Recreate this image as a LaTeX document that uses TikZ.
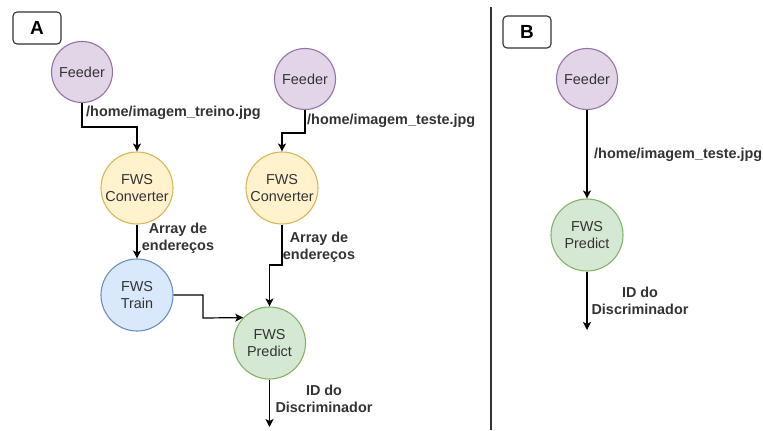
\documentclass[tikz,border=0pt]{standalone}
\usepackage{fontspec}
\setmainfont{Liberation Sans}
\usetikzlibrary{arrows.meta}
\definecolor{txt}{HTML}{333333}
\definecolor{pfill}{HTML}{E1D5E7}\definecolor{pline}{HTML}{9673A6}
\definecolor{yfill}{HTML}{FFF2CC}\definecolor{yline}{HTML}{D6B656}
\definecolor{bfill}{HTML}{DAE8FC}\definecolor{bline}{HTML}{6C8EBF}
\definecolor{gfill}{HTML}{D5E8D4}\definecolor{gline}{HTML}{82B366}
\tikzset{
  circ/.style={circle,inner sep=0pt,minimum size=72pt,line width=1.1pt,text=txt,align=center,
    font=\fontsize{14.4}{17}\selectfont},
  feeder/.style={circ,minimum size=61pt,fill=pfill,draw=pline},
  conv/.style={circ,fill=yfill,draw=yline},
  train/.style={circ,fill=bfill,draw=bline},
  pred/.style={circ,fill=gfill,draw=gline},
  lbl/.style={inner sep=0pt,text=txt,align=center,font=\fontsize{14.4}{17}\selectfont\bfseries},
  tag/.style={draw=txt,line width=1.1pt,rounded corners=4pt,fill=white,minimum width=48pt,minimum height=32pt,
    inner sep=0pt,font=\fontsize{19}{20}\selectfont\bfseries},
  arr/.style={line width=1.2pt,-{Stealth[length=8pt,width=8pt,inset=2pt]}}
}
\begin{document}
\begin{tikzpicture}[x=1pt,y=-1pt]
\useasboundingbox (0,0) rectangle (763,431);
% panel A
\node[tag] (tA) at (37,28) {A};
\node[feeder] (f1) at (82,72) {Feeder};
\node[feeder] (f2) at (305,79) {Feeder};
\node[conv] (c1) at (137,188) {FWS\\Converter};
\node[conv] (c2) at (282,188) {FWS\\Converter};
\node[train] (t) at (137,295) {FWS\\Train};
\node[pred] (p) at (269.5,343) {FWS\\Predict};
\coordinate (b1) at (82,127);
\coordinate (b2) at (305,133);
\coordinate (b4) at (203,318);
\coordinate (b5) at (269.5,265);
\coordinate (oA) at (269.5,427);
\draw[arr] (f1.south) -- (b1) -| (c1.north);
\draw[arr] (f2.south) -- (b2) -| (c2.north);
\draw[arr] (c1.south) -- (t.north);
\draw[arr] (c2.south) |- (b5) -- (p.north);
\draw[arr] (t.east) -| (b4) -- (p.136);
\draw[arr] (p.south) -- (oA);
\node[lbl,anchor=west] (l1) at (86,113) {/home/imagem\_treino.jpg};
\node[lbl,anchor=west] (l2) at (307,121) {/home/imagem\_teste.jpg};
\node[lbl] (l3) at (178,238) {Array de\\endereços};
\node[lbl] (l4) at (319,247) {Array de\\endereços};
\node[lbl] (l5) at (324,399) {ID do\\Discriminador};
% divider
\draw[line width=1.2pt,draw=txt] (491,7) -- (491,430);
% panel B
\node[tag] (tB) at (527,32) {B};
\node[feeder] (fB) at (587,79) {Feeder};
\node[pred] (pB) at (587,235) {FWS\\Predict};
\coordinate (oB) at (587,330);
\draw[arr] (fB.south) -- (pB.north);
\draw[arr] (pB.south) -- (oB);
\node[lbl,anchor=west] (l6) at (594,155) {/home/imagem\_teste.jpg};
\node[lbl] (l7) at (640,301) {ID do\\Discriminador};
\end{tikzpicture}
\end{document}
